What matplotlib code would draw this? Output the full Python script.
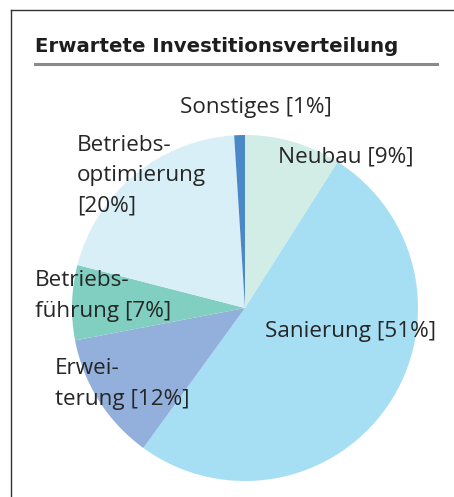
import matplotlib
matplotlib.use("Agg")
import matplotlib.pyplot as plt
from matplotlib.lines import Line2D

W, H = 454, 497
categories = ["Neubau", "Sanierung", "Erweiterung", "Betriebsführung", "Betriebsoptimierung", "Sonstiges"]
values = [9, 51, 12, 7, 20, 1]
colors = ["#d2ece6", "#a6def4", "#93afdc", "#80cfc1", "#d9eff8", "#4a88c8"]
label_texts = ["Neubau [9%]", "Sanierung [51%]", "Erwei-\nterung [12%]",
               "Betriebs-\nführung [7%]", "Betriebs-\noptimierung\n[20%]", "Sonstiges [1%]"]
label_pos = [(278, 157), (265, 331), (55, 384), (35, 296), (77, 176), (180, 107)]
title = "Erwartete Investitionsverteilung"

fig = plt.figure(figsize=(W / 100, H / 100), dpi=100)
ax = fig.add_axes([0, 0, 1, 1])

ax.pie(values, colors=colors, startangle=90, counterclock=False,
       center=(245, H - 308), radius=173, frame=True,
       wedgeprops=dict(linewidth=0))
ax.set_xlim(0, W)
ax.set_ylim(0, H)
ax.set_aspect("equal")
ax.axis("off")

font = ["Open Sans", "DejaVu Sans"]
for txt, (x, y) in zip(label_texts, label_pos):
    ax.text(x, H - y, txt, ha="left", va="center", fontsize=16.2,
            color="#262626", family=font, linespacing=1.58)

ax.text(35, H - 47, title, ha="left", va="center", fontsize=14.2,
        fontweight="bold", color="#1e1e1e", family=["DejaVu Sans"])
ax.add_line(Line2D([35, 437], [H - 64, H - 64], color="#8a8a8a", lw=2.2))
ax.add_line(Line2D([11, W], [H - 10, H - 10], color="#333333", lw=1.0))
ax.add_line(Line2D([11, 11], [H - 10, 0], color="#333333", lw=1.0))

fig.savefig("out.png", dpi=100)
